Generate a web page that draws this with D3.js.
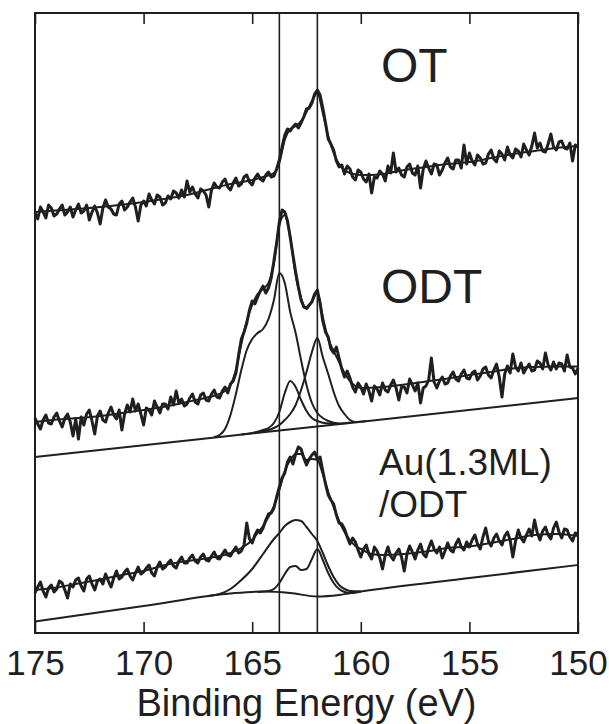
<!DOCTYPE html>
<html>
<head>
<meta charset="utf-8">
<script src="https://cdn.jsdelivr.net/npm/d3@7"></script>
<style>
	body { margin: 0; background: #fff; }
	svg { display: block; font-family: "Liberation Sans", Arial, Helvetica, sans-serif; }
</style>
</head>
<body>
<svg id="xps" width="609" height="724" viewBox="0 0 609 724"></svg>
<script>
// measured S 2p spectra, sampled every 0.125 eV from 175 eV down to 150 eV
// (one row = 1 eV)
const energyStart = 175;
const energyStep = 0.125;
const energyTicks = [175, 170, 165, 160, 155, 150];
const markerEnergies = [163.75, 162.0];

const otCounts = [
	42.0, 41.4, 42.6, 42.1, 41.5, 42.8, 42.5, 41.7,
	41.9, 42.4, 42.8, 41.8, 42.1, 42.6, 41.6, 42.3,
	42.9, 42.0, 42.2, 42.8, 41.3, 42.1, 42.7, 42.0,
	40.9, 42.5, 43.3, 42.6, 42.4, 41.9, 41.8, 42.9,
	43.2, 42.3, 42.6, 43.1, 43.5, 42.6, 41.2, 42.8,
	43.2, 42.7, 43.9, 43.3, 42.9, 43.8, 43.6, 42.8,
	43.0, 43.7, 43.4, 44.2, 44.0, 43.5, 44.3, 43.6,
	45.2, 44.1, 44.6, 43.9, 43.5, 44.4, 44.2, 43.8,
	42.6, 44.3, 45.0, 44.6, 44.5, 45.1, 45.4, 44.6,
	44.3, 45.0, 45.5, 44.7, 44.9, 45.6, 45.8, 45.1,
	44.8, 45.5, 45.9, 45.4, 45.2, 45.8, 46.1, 45.6,
	45.7, 46.4, 47.3, 48.6, 49.8, 50.4, 50.2, 50.6,
	50.9, 50.5, 51.0, 51.6, 52.4, 52.5, 53.0, 53.9,
	54.3, 53.8, 52.5, 51.0, 49.4, 48.9, 48.3, 47.2,
	46.6, 46.8, 45.9, 46.7, 46.4, 45.6, 45.3, 46.3,
	46.1, 45.4, 45.1, 45.9, 44.0, 45.6, 45.5, 46.2,
	45.9, 45.2, 46.7, 46.0, 48.0, 46.1, 46.5, 45.8,
	45.6, 46.6, 46.9, 46.0, 45.8, 46.7, 44.5, 46.4,
	47.2, 46.5, 45.9, 46.9, 46.8, 45.8, 46.3, 47.0,
	47.5, 46.6, 46.4, 47.3, 47.3, 46.5, 48.8, 46.9,
	48.0, 47.2, 46.8, 47.8, 47.5, 46.9, 47.0, 47.9,
	48.3, 47.4, 47.1, 48.2, 47.9, 47.3, 48.6, 47.8,
	47.5, 48.4, 48.2, 47.6, 48.9, 48.3, 47.8, 48.7,
	50.0, 48.5, 49.0, 48.2, 48.1, 48.9, 49.9, 48.6,
	48.3, 49.1, 49.2, 48.5, 48.4, 49.0, 47.2, 48.8,
	48.6
];

const odtCounts = [
	21.5, 20.9, 20.4, 21.3, 21.8, 21.0, 20.9, 21.6,
	22.0, 21.2, 20.6, 21.5, 21.9, 21.1, 19.7, 21.4,
	19.4, 21.6, 20.8, 21.9, 22.3, 21.2, 19.9, 21.7,
	22.2, 21.3, 21.1, 22.0, 22.6, 21.8, 21.4, 22.3,
	20.3, 21.9, 22.8, 22.1, 23.4, 22.2, 22.9, 21.9,
	20.8, 22.5, 22.3, 21.8, 23.2, 22.6, 22.0, 22.9,
	22.9, 22.4, 23.6, 22.8, 24.2, 23.0, 23.4, 22.7,
	22.9, 23.5, 23.9, 23.1, 22.9, 23.8, 24.0, 23.3,
	23.2, 23.9, 24.3, 23.6, 23.5, 24.2, 24.6, 24.0,
	24.9, 25.2, 26.0, 27.8, 29.4, 30.1, 31.0, 32.3,
	33.2, 32.9, 33.6, 34.2, 34.7, 34.0, 34.5, 35.5,
	37.2, 39.0, 41.1, 42.3, 42.1, 41.2, 39.6, 37.8,
	36.1, 34.6, 33.3, 32.6, 32.5, 32.8, 33.1, 33.9,
	34.3, 33.0, 31.2, 30.1, 29.6, 28.4, 28.0, 28.6,
	27.5, 26.4, 25.6, 26.2, 25.5, 24.6, 24.1, 25.0,
	24.6, 23.9, 24.9, 24.2, 23.2, 24.7, 24.4, 23.8,
	25.0, 24.3, 24.1, 24.8, 25.3, 24.5, 23.3, 24.6,
	24.6, 24.0, 25.4, 24.8, 24.2, 25.0, 23.0, 24.5,
	24.7, 25.3, 27.5, 25.1, 24.5, 25.2, 25.6, 24.9,
	25.0, 25.7, 26.1, 25.4, 25.2, 25.9, 26.3, 25.5,
	25.4, 26.0, 26.2, 25.3, 25.7, 26.4, 26.6, 25.8,
	25.5, 26.3, 26.9, 25.6, 23.6, 25.9, 26.7, 26.0,
	27.9, 26.6, 26.2, 27.0, 26.0, 26.5, 26.9, 26.2,
	26.3, 27.2, 27.0, 26.4, 28.0, 26.8, 26.3, 27.1,
	26.4, 27.0, 26.9, 26.2, 27.8, 26.6, 26.5, 25.9,
	26.5
];

const auCounts = [
	4.0, 4.6, 5.1, 4.2, 3.6, 4.5, 4.8, 4.1,
	4.4, 5.2, 5.0, 4.3, 3.5, 4.9, 4.6, 5.3,
	5.5, 4.7, 4.2, 5.4, 5.7, 4.9, 4.3, 5.2,
	5.4, 4.9, 5.9, 5.2, 4.6, 5.5, 6.2, 5.4,
	5.6, 6.1, 6.4, 5.7, 5.3, 6.0, 6.6, 5.9,
	6.1, 6.5, 6.8, 6.0, 5.7, 6.6, 7.1, 6.4,
	6.6, 7.0, 7.3, 6.7, 6.5, 7.2, 7.6, 7.0,
	7.0, 7.5, 7.8, 7.2, 7.0, 7.6, 7.9, 7.3,
	7.2, 7.7, 8.1, 7.5, 7.4, 7.9, 8.3, 7.8,
	7.7, 8.2, 8.6, 8.0, 8.2, 8.8, 11.0, 9.4,
	9.0, 9.8, 10.3, 10.0, 10.5, 11.3, 11.9, 12.0,
	12.5, 13.6, 14.6, 15.5, 16.0, 17.1, 17.6, 16.9,
	17.9, 18.6, 18.4, 17.5, 16.8, 17.4, 17.8, 18.1,
	17.4, 17.6, 16.2, 14.9, 13.8, 13.3, 12.9, 11.8,
	11.0, 10.9, 10.4, 9.6, 8.9, 9.5, 9.1, 8.3,
	7.6, 8.4, 8.8, 7.9, 7.4, 8.6, 8.2, 7.5,
	6.4, 7.8, 8.6, 7.7, 7.3, 8.0, 8.4, 7.6,
	6.2, 7.9, 8.7, 8.1, 7.4, 8.3, 8.9, 7.9,
	7.6, 8.5, 9.2, 8.4, 8.0, 8.6, 7.5, 8.2,
	9.0, 8.3, 8.1, 8.9, 9.4, 8.6, 8.3, 9.1,
	8.6, 9.3, 9.8, 8.9, 8.4, 9.6, 10.5, 9.2,
	8.7, 9.5, 9.9, 9.2, 8.8, 9.7, 10.1, 9.3,
	7.6, 9.2, 10.3, 9.5, 9.1, 9.8, 10.4, 9.7,
	11.3, 10.0, 9.3, 10.2, 10.6, 9.8, 9.4, 10.5,
	11.1, 10.1, 9.5, 10.4, 10.3, 9.6, 9.2, 10.0,
	9.9
];

// fitted curves, [binding energy, intensity]
const otEnvelope = [
	[175, 42.1], [172, 42.6], [170, 43.1], [168, 43.8], [166, 44.9], [165, 45.3],
	[164.5, 45.6], [164, 46.0], [163.75, 47.0], [163.5, 49.3], [163.25, 50.4], [163, 50.7],
	[162.75, 51.2], [162.5, 52.1], [162.25, 53.2], [162, 54.0], [161.75, 52.0], [161.5, 49.7],
	[161.25, 48.0], [161, 46.9], [160.75, 46.3], [160.5, 46.0], [160, 45.8], [159.5, 45.8],
	[159, 45.9], [158, 46.3], [157, 46.6], [156, 46.9], [155, 47.1], [154, 47.5],
	[153, 47.9], [152, 48.2], [151, 48.5], [150, 48.7]
];

const odtEnvelope = [
	[175, 21.1], [174, 21.35], [173, 21.5], [172, 21.7], [171, 22.0], [170, 22.3],
	[169, 22.65], [168, 23.1], [167, 23.6], [166.5, 23.9], [166.25, 24.2], [166, 24.8],
	[165.75, 26.3], [165.5, 28.9], [165.25, 31.2], [165, 32.8], [164.75, 33.9], [164.5, 34.4],
	[164.25, 35.0], [164, 37.0], [163.75, 40.8], [163.5, 41.8], [163.25, 39.6], [163, 35.8],
	[162.75, 33.5], [162.5, 32.4], [162.25, 33.2], [162, 34.0], [161.75, 31.6], [161.5, 29.4],
	[161.25, 28.2], [161, 27.1], [160.75, 26.0], [160.5, 25.2], [160.25, 24.7], [160, 24.5],
	[159, 24.6], [158, 24.85], [157, 25.15], [156, 25.45], [155, 25.8], [154, 26.1],
	[153, 26.45], [152, 26.6], [151, 26.65], [150, 26.65]
];
const odtBackground = [[175, 17.6], [166.5, 19.6], [160.5, 21.0], [150, 23.5]];
const odtPeakA = [
	[166.75, 19.6], [166.5, 19.8], [166.25, 20.4], [166, 21.8], [165.75, 23.9], [165.5, 26.3],
	[165.25, 28.3], [165, 29.4], [164.75, 30.0], [164.5, 30.4], [164.25, 31.4], [164, 33.3],
	[163.75, 36.0], [163.5, 35.0], [163.25, 32.1], [163, 30.0], [162.75, 27.3], [162.5, 24.8],
	[162.25, 23.0], [162, 22.0], [161.75, 21.5], [161.5, 21.2], [161, 20.95], [160.5, 21.04]
];
const odtPeakB = [
	[164.75, 20.05], [164.25, 20.3], [164, 20.5], [163.75, 20.8], [163.5, 21.3], [163.25, 21.9],
	[163, 22.8], [162.75, 24.3], [162.5, 26.1], [162.25, 28.1], [162, 29.5], [161.75, 27.6],
	[161.5, 25.9], [161.25, 24.1], [161, 22.7], [160.75, 21.9], [160.5, 21.3], [160.25, 21.1],
	[159.75, 21.2]
];
const odtPeakC = [
	[165.5, 19.86], [165, 20.0], [164.5, 20.3], [164.25, 20.5], [164, 21.0], [163.75, 22.1],
	[163.5, 24.0], [163.25, 25.2], [163, 24.6], [162.75, 23.3], [162.5, 22.2], [162.25, 21.5],
	[162, 21.2], [161.5, 20.95], [161, 20.92]
];

const auEnvelope = [
	[175, 4.3], [174, 4.55], [173, 4.95], [172, 5.35], [171, 5.8], [170, 6.2],
	[169, 6.8], [168, 7.2], [167, 7.5], [166, 8.0], [165.5, 8.5], [165, 9.3],
	[164.75, 10.0], [164.5, 10.7], [164.25, 11.6], [164, 12.7], [163.75, 14.3], [163.5, 16.2],
	[163.25, 17.3], [163, 17.9], [162.75, 17.9], [162.5, 17.3], [162.25, 17.4], [162, 17.3],
	[161.75, 15.9], [161.5, 14.1], [161.25, 12.6], [161, 11.2], [160.75, 10.1], [160.5, 9.3],
	[160.25, 8.7], [160, 8.4], [159.5, 7.9], [159, 7.8], [158, 7.9], [157, 8.15],
	[156, 8.5], [155, 8.65], [154, 9.0], [153, 9.4], [152, 9.8], [151, 9.9], [150, 9.7]
];
const auBackground = [
	[175, 1.15], [170, 2.7], [166, 3.95], [164.5, 4.15], [163.25, 4.0], [162, 3.65],
	[161, 3.8], [160, 4.15], [155, 5.5], [150, 6.8]
];
const auPeakBroad = [
	[167, 3.7], [166.5, 3.9], [166, 4.4], [165.5, 5.3], [165, 6.4], [164.5, 7.9],
	[164, 9.4], [163.75, 10.0], [163.5, 10.7], [163.25, 11.1], [163, 11.3], [162.75, 11.2],
	[162.5, 10.6], [162.25, 9.9], [162, 9.2], [161.75, 8.0], [161.5, 6.7], [161.25, 5.6],
	[161, 4.8], [160.75, 4.4], [160.5, 4.2], [160, 4.15]
];
const auPeakThiolate = [
	[164.75, 4.1], [164.25, 4.2], [164, 4.4], [163.75, 5.0], [163.5, 5.9], [163.25, 6.6],
	[163, 6.7], [162.75, 6.3], [162.5, 6.4], [162.25, 7.4], [162, 8.4], [161.75, 7.3],
	[161.5, 6.0], [161.25, 5.0], [161, 4.4], [160.75, 4.1], [160.5, 4.0], [160, 4.15]
];

class XpsStack {

	constructor(svg_element_id) {
		this.svg = d3.select('#' + svg_element_id);

		this.x = d3.scaleLinear()
			.domain([energyStart, 150])
			.range([35, 578]);

		// intensity in arbitrary units, spectra are offset vertically
		this.y = d3.scaleLinear()
			.domain([0, 62])
			.range([633, 13]);

		this.ink = "#1f1f1f";
	}

	toPairs(counts) {
		return counts.map((c, i) => [energyStart - i * energyStep, c]);
	}

	drawCurves() {
		const smooth = d3.line()
			.x(d => this.x(d[0]))
			.y(d => this.y(d[1]))
			.curve(d3.curveMonotoneX);

		const raw = d3.line()
			.x(d => this.x(d[0]))
			.y(d => this.y(d[1]));

		const fits = [otEnvelope, odtEnvelope, odtBackground, odtPeakA, odtPeakB, odtPeakC,
			auEnvelope, auBackground, auPeakBroad, auPeakThiolate];

		this.svg.append('g')
			.selectAll('.fit')
			.data(fits)
			.enter()
			.append('path')
			.classed('fit', true)
			.attr('d', smooth)
			.attr('fill', 'none')
			.attr('stroke', this.ink)
			.attr('stroke-width', 2)
			.attr('stroke-linejoin', 'round');

		this.svg.append('g')
			.selectAll('.spectrum')
			.data([otCounts, odtCounts, auCounts].map(c => this.toPairs(c)))
			.enter()
			.append('path')
			.classed('spectrum', true)
			.attr('d', raw)
			.attr('fill', 'none')
			.attr('stroke', this.ink)
			.attr('stroke-width', 3)
			.attr('stroke-linejoin', 'round');
	}

	drawFrame() {
		const [y0, y1] = this.y.range();
		const [x0, x1] = this.x.range();

		this.svg.append('g')
			.selectAll('.marker')
			.data(markerEnergies)
			.enter()
			.append('line')
			.classed('marker', true)
			.attr('x1', d => this.x(d))
			.attr('x2', d => this.x(d))
			.attr('y1', y1)
			.attr('y2', y0)
			.attr('stroke', this.ink)
			.attr('stroke-width', 1.6);

		this.svg.append('rect')
			.attr('x', x0)
			.attr('y', y1)
			.attr('width', x1 - x0)
			.attr('height', y0 - y1)
			.attr('fill', 'none')
			.attr('stroke', this.ink)
			.attr('stroke-width', 2);

		const bottom = d3.axisBottom(this.x)
			.tickValues(energyTicks)
			.tickSizeInner(-11)
			.tickSizeOuter(0)
			.tickPadding(17)
			.tickFormat(d3.format('d'));

		const top = d3.axisTop(this.x)
			.tickValues(energyTicks)
			.tickSizeInner(-11)
			.tickSizeOuter(0)
			.tickFormat('');

		const gb = this.svg.append('g')
			.attr('transform', 'translate(0,' + y0 + ')')
			.call(bottom);
		const gt = this.svg.append('g')
			.attr('transform', 'translate(0,' + y1 + ')')
			.call(top);

		[gb, gt].forEach(g => {
			g.attr('font-family', null).attr('font-size', null);
			g.select('.domain').remove();
			g.selectAll('.tick line').attr('stroke', this.ink).attr('stroke-width', 1.6);
		});
		gb.selectAll('.tick text')
			.attr('fill', this.ink)
			.style('font-size', '35px');

		this.svg.append('text')
			.attr('x', (x0 + x1) / 2)
			.attr('y', 716)
			.attr('text-anchor', 'middle')
			.attr('fill', this.ink)
			.style('font-size', '38px')
			.text('Binding Energy (eV)');
	}

	drawLabels() {
		const labels = [
			{ text: 'OT', x: 381, y: 82, size: 48 },
			{ text: 'ODT', x: 381, y: 303, size: 48 },
			{ text: 'Au(1.3ML)', x: 379, y: 475, size: 37 },
			{ text: '/ODT', x: 379, y: 517, size: 37 }
		];
		this.svg.append('g')
			.selectAll('.sample-label')
			.data(labels)
			.enter()
			.append('text')
			.classed('sample-label', true)
			.attr('x', d => d.x)
			.attr('y', d => d.y)
			.attr('fill', this.ink)
			.style('font-size', d => d.size + 'px')
			.text(d => d.text);
	}
}

function whenDocumentLoaded(action) {
	if (document.readyState === "loading") {
		document.addEventListener("DOMContentLoaded", action);
	} else {
		action();
	}
}

whenDocumentLoaded(() => {
	const plot = new XpsStack('xps');
	plot.drawCurves();
	plot.drawFrame();
	plot.drawLabels();
});
</script>
</body>
</html>
